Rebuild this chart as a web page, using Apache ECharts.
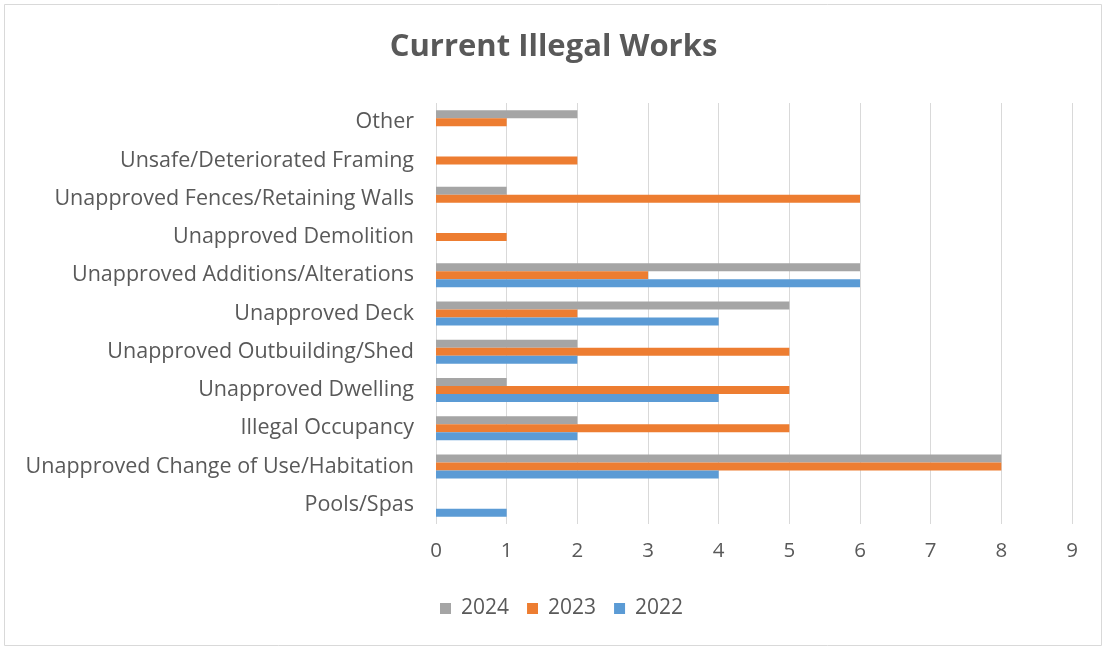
<!DOCTYPE html>
<html><head><meta charset="utf-8">
<script src="https://cdn.jsdelivr.net/npm/echarts@6/dist/echarts.min.js"></script>
<style>html,body{margin:0;padding:0;background:#fff}#c{width:1107px;height:651px}</style>
</head><body><div id="c"></div>
<script>
const categories = ["Pools/Spas","Unapproved Change of Use/Habitation","Illegal Occupancy","Unapproved Dwelling","Unapproved Outbuilding/Shed","Unapproved Deck","Unapproved Additions/Alterations","Unapproved Demolition","Unapproved Fences/Retaining Walls","Unsafe/Deteriorated Framing","Other"];
const v2022 = [1,4,2,4,2,4,6,0,0,0,0];
const v2023 = [0,8,5,5,5,2,3,1,6,2,1];
const v2024 = [0,8,2,1,2,5,6,0,1,0,2];
const xTicks = [0,1,2,3,4,5,6,7,8,9];
const font = "'Open Sans', 'Liberation Sans', sans-serif";
const chart = echarts.init(document.getElementById('c'), null, {renderer:'canvas'});
const mk = (name, data, color) => ({name, type:'bar', data, barWidth:8, barGap:'0%', itemStyle:{color}, animation:false});
chart.setOption({
  animation:false,
  graphic:[{type:'rect', shape:{x:4.5,y:4.5,width:1097,height:641}, style:{fill:'none', stroke:'#d9d9d9', lineWidth:1}}],
  title:{text:'Current Illegal Works', left:'center', top:27, textStyle:{fontFamily:font, fontSize:31, fontWeight:'bold', color:'#595959'}},
  legend:{data:['2024','2023','2022'], bottom:27, left:435, itemWidth:11, itemHeight:11, itemGap:18, icon:'rect', textStyle:{fontFamily:font, fontSize:21, color:'#595959', padding:[0,0,0,5]}},
  grid:{left:436, right:35, top:103, bottom:127, containLabel:false},
  xAxis:{type:'value', min:0, max:9, interval:1, axisLine:{show:false}, axisTick:{show:false},
    axisLabel:{fontFamily:font, fontSize:20.5, color:'#595959', margin:17, formatter:v=>String(xTicks[v] ?? v)},
    splitLine:{lineStyle:{color:'#d9d9d9', width:1}}},
  yAxis:{type:'category', data:categories, axisLine:{show:false}, axisTick:{show:false},
    axisLabel:{fontFamily:font, fontSize:21.5, color:'#595959', margin:22}},
  series:[mk('2024', v2024, '#a5a5a5'), mk('2023', v2023, '#ed7d31'), mk('2022', v2022, '#5b9bd5')]
});
</script></body></html>
